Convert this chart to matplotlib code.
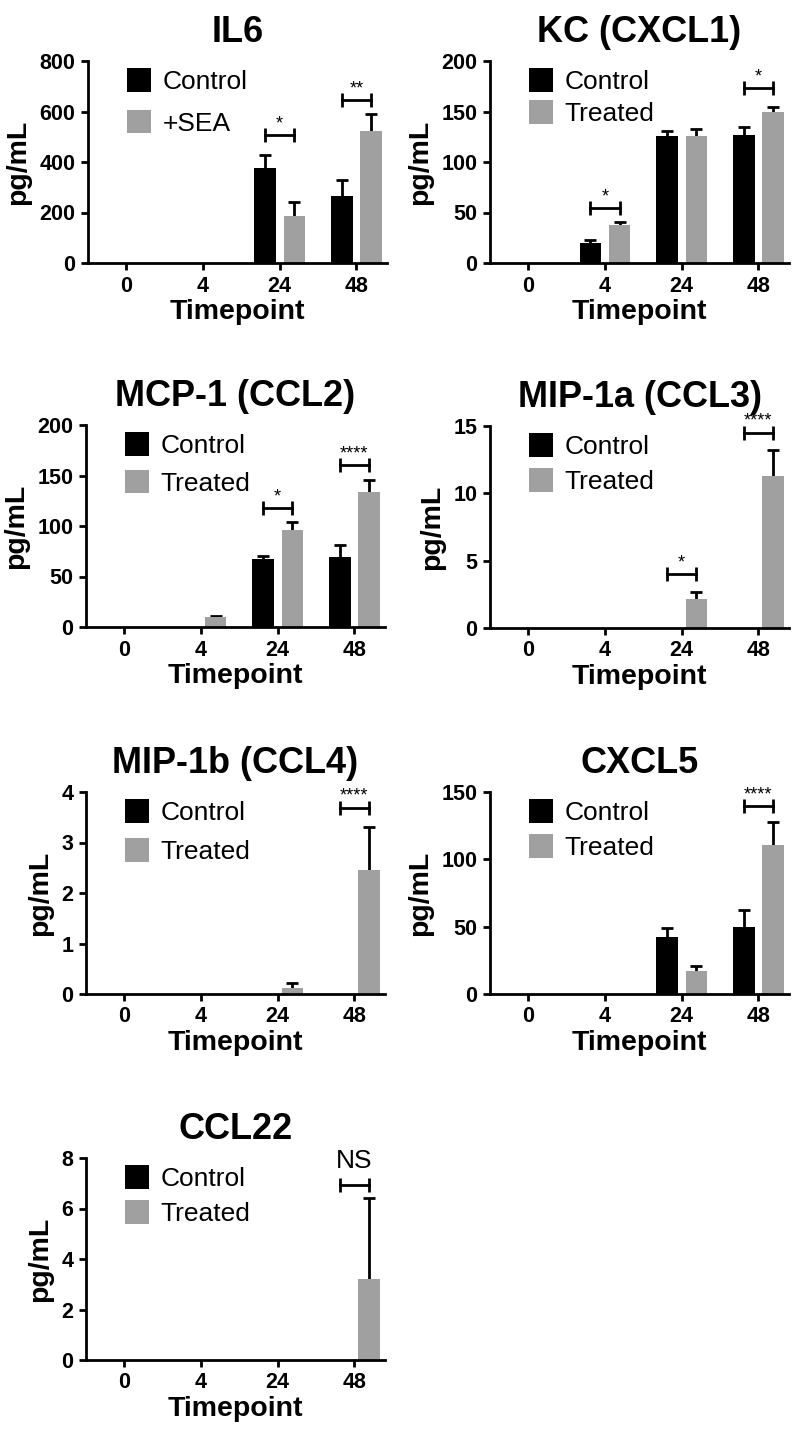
import numpy as np
import matplotlib
matplotlib.use('Agg')
import matplotlib.pyplot as plt
from matplotlib.patches import Patch

# x categories
timepoints = ['0', '4', '24', '48']

# IL6
il6_ctrl = [0, 0, 376, 267]
il6_ctrl_err = [0, 0, 53, 60]
il6_trt = [0, 0, 185, 524]
il6_trt_err = [0, 0, 57, 65]
il6_sig_x = [2, 3]
il6_sig_y = [506, 645]
il6_sig_lab = ['*', '**']

# KC (CXCL1)
kc_ctrl = [0, 19.6, 125.8, 126.5]
kc_ctrl_err = [0, 3.4, 5.2, 8]
kc_trt = [0, 37.6, 125.8, 150]
kc_trt_err = [0, 3.4, 6.5, 4.6]
kc_sig_x = [1, 3]
kc_sig_y = [54.6, 173]
kc_sig_lab = ['*', '*']

# MCP-1 (CCL2)
mcp_ctrl = [0, 0, 67, 69.6]
mcp_ctrl_err = [0, 0, 3.6, 11.4]
mcp_trt = [0, 9.9, 96, 133.7]
mcp_trt_err = [0, 1.1, 8, 12]
mcp_sig_x = [2, 3]
mcp_sig_y = [118, 160.6]
mcp_sig_lab = ['*', '****']

# MIP-1a (CCL3)
mip1a_ctrl = [0, 0, 0, 0]
mip1a_ctrl_err = [0, 0, 0, 0]
mip1a_trt = [0, 0, 2.16, 11.27]
mip1a_trt_err = [0, 0, 0.5, 1.95]
mip1a_sig_x = [2, 3]
mip1a_sig_y = [4.0, 14.5]
mip1a_sig_lab = ['*', '****']

# MIP-1b (CCL4)
mip1b_ctrl = [0, 0, 0, 0]
mip1b_ctrl_err = [0, 0, 0, 0]
mip1b_trt = [0, 0, 0.12, 2.45]
mip1b_trt_err = [0, 0, 0.1, 0.86]
mip1b_sig_x = [3]
mip1b_sig_y = [3.69]
mip1b_sig_lab = ['****']

# CXCL5
cxcl5_ctrl = [0, 0, 42, 50]
cxcl5_ctrl_err = [0, 0, 7, 12.4]
cxcl5_trt = [0, 0, 17.4, 111]
cxcl5_trt_err = [0, 0, 3.6, 17]
cxcl5_sig_x = [3]
cxcl5_sig_y = [139.5]
cxcl5_sig_lab = ['****']

# CCL22
ccl22_ctrl = [0, 0, 0, 0]
ccl22_ctrl_err = [0, 0, 0, 0]
ccl22_trt = [0, 0, 0, 3.2]
ccl22_trt_err = [0, 0, 0, 3.23]
ccl22_sig_x = [3]
ccl22_sig_y = [6.95]
ccl22_sig_lab = ['NS']

gray = '#a0a0a0'
plt.rcParams['font.family'] = 'Liberation Sans'
plt.rcParams['font.weight'] = 'bold'

fig = plt.figure(figsize=(8, 14.3), dpi=100)
W, H = 800, 1430


def make_axes(left_px, top_px, width_px=299, height_px=202):
    return fig.add_axes([left_px / W, 1 - (top_px + height_px) / H, width_px / W, height_px / H])


def draw_panel(ax, title, ctrl, ctrl_err, trt, trt_err, yticks, sig_x, sig_y, sig_lab,
               trt_name='Treated', spacing=0.3):
    x = np.arange(len(timepoints))
    w, off = 0.28, 0.19
    ax.bar(x - off, ctrl, w, color='black', zorder=2)
    ax.bar(x + off, trt, w, color=gray, zorder=2)
    # error bars sit behind the bars so only the upper half shows
    for xs, vals, errs in ((x - off, ctrl, ctrl_err), (x + off, trt, trt_err)):
        vals = np.array(vals, float)
        errs = np.array(errs, float)
        m = (vals > 0) | (errs > 0)
        if m.any():
            ax.errorbar(xs[m], vals[m], yerr=[errs[m], errs[m]], fmt='none', zorder=1,
                        ecolor='black', elinewidth=2, capsize=4.3, capthick=2)
    for sx, sy, lab in zip(sig_x, sig_y, sig_lab):
        ax.plot([sx - off, sx + off], [sy, sy], color='black', lw=2, marker='|',
                ms=9.5, mew=2, clip_on=False)
        if lab == 'NS':
            ax.annotate(lab, (sx, sy), xytext=(0, 8), textcoords='offset points', ha='center',
                        va='bottom', fontsize=19, fontweight='normal', annotation_clip=False)
        else:
            ax.annotate(lab, (sx, sy), xytext=(0, 2), textcoords='offset points', ha='center',
                        va='bottom', fontsize=13, fontweight='normal', annotation_clip=False)

    ax.set_xlim(-0.5, 3.4)
    ax.set_ylim(0, yticks[-1])
    ax.set_xticks(x, timepoints)
    ax.set_yticks(yticks)
    for s in ['top', 'right']:
        ax.spines[s].set_visible(False)
    for s in ['left', 'bottom']:
        ax.spines[s].set_linewidth(2)
        ax.spines[s].set_zorder(3)
    ax.tick_params(direction='out', length=5, width=2, labelsize=15.5, pad=4)
    ax.set_xlabel('Timepoint', fontsize=20.5, fontweight='bold', labelpad=2)
    ax.set_ylabel('pg/mL', fontsize=20.5, fontweight='bold', labelpad=6)
    ax.set_title(title, fontsize=26, fontweight='bold', pad=14)

    handles = [Patch(facecolor='black', label='Control'), Patch(facecolor=gray, label=trt_name)]
    ax.legend(handles=handles, loc='upper left', bbox_to_anchor=(39 / 299, 1 - 7 / 202), frameon=False,
              borderpad=0, borderaxespad=0, handlelength=0.9, handleheight=1.0,
              handletextpad=0.45, labelspacing=spacing, prop={'size': 19, 'weight': 'normal'})


ax1 = make_axes(88, 61)
draw_panel(ax1, 'IL6', il6_ctrl, il6_ctrl_err, il6_trt, il6_trt_err, [0, 200, 400, 600, 800],
           il6_sig_x, il6_sig_y, il6_sig_lab, trt_name='+SEA', spacing=0.6)

ax2 = make_axes(490, 61)
draw_panel(ax2, 'KC (CXCL1)', kc_ctrl, kc_ctrl_err, kc_trt, kc_trt_err, [0, 50, 100, 150, 200],
           kc_sig_x, kc_sig_y, kc_sig_lab, spacing=0.25)

ax3 = make_axes(86, 425)
draw_panel(ax3, 'MCP-1 (CCL2)', mcp_ctrl, mcp_ctrl_err, mcp_trt, mcp_trt_err, [0, 50, 100, 150, 200],
           mcp_sig_x, mcp_sig_y, mcp_sig_lab, spacing=0.45)

ax4 = make_axes(490, 426)
draw_panel(ax4, 'MIP-1a (CCL3)', mip1a_ctrl, mip1a_ctrl_err, mip1a_trt, mip1a_trt_err, [0, 5, 10, 15],
           mip1a_sig_x, mip1a_sig_y, mip1a_sig_lab, spacing=0.35)

ax5 = make_axes(86, 792)
draw_panel(ax5, 'MIP-1b (CCL4)', mip1b_ctrl, mip1b_ctrl_err, mip1b_trt, mip1b_trt_err, [0, 1, 2, 3, 4],
           mip1b_sig_x, mip1b_sig_y, mip1b_sig_lab, spacing=0.5)

ax6 = make_axes(490, 792)
draw_panel(ax6, 'CXCL5', cxcl5_ctrl, cxcl5_ctrl_err, cxcl5_trt, cxcl5_trt_err, [0, 50, 100, 150],
           cxcl5_sig_x, cxcl5_sig_y, cxcl5_sig_lab, spacing=0.35)

ax7 = make_axes(86, 1158)
draw_panel(ax7, 'CCL22', ccl22_ctrl, ccl22_ctrl_err, ccl22_trt, ccl22_trt_err, [0, 2, 4, 6, 8],
           ccl22_sig_x, ccl22_sig_y, ccl22_sig_lab, spacing=0.35)

fig.savefig('out.png', dpi=100)
